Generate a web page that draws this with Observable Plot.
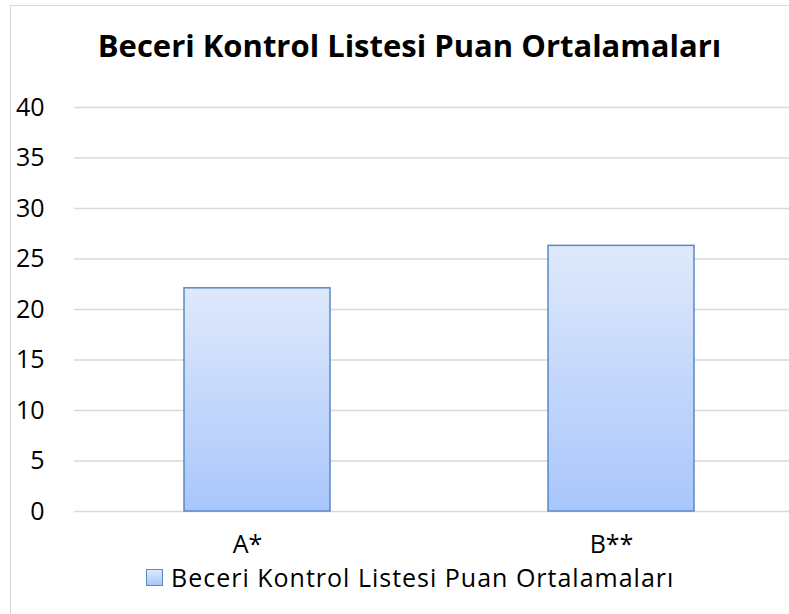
<!DOCTYPE html>
<html>
<head>
<meta charset="utf-8">
<script src="https://cdn.jsdelivr.net/npm/d3@7"></script>
<script src="https://cdn.jsdelivr.net/npm/@observablehq/plot@0.6"></script>
<style>
  html, body { margin: 0; padding: 0; background: #fff; overflow: hidden; }
  body { width: 789px; height: 614px; position: relative; font-family: "Open Sans", Lato, sans-serif; }
  #frame { position: absolute; left: 10px; top: 5px; width: 800px; height: 640px; border: 1.5px solid #d9d9d9; box-sizing: border-box; }
  #title { position: absolute; left: 0; width: 819px; top: 25px; text-align: center; font-size: 31px; font-weight: 700; color: #000; line-height: 40px; white-space: nowrap; }
  #chart { position: absolute; left: 0; top: 85px; }
  #legend { position: absolute; left: 146px; top: 561px; font-size: 25px; letter-spacing: 1px; color: #000; line-height: 32px; white-space: nowrap; display: flex; align-items: center; }
  #legend .sw { width: 15px; height: 15px; border: 1.5px solid #5a88c6; background: linear-gradient(#dfe9fb, #a9c6fb); margin-right: 8px; }
</style>
</head>
<body>
<div id="frame"></div>
<div id="title">Beceri Kontrol Listesi Puan Ortalamaları</div>
<div id="chart"></div>
<div id="legend"><span class="sw"></span><span>Beceri Kontrol Listesi Puan Ortalamaları</span></div>
<script>
const categories = ["A*", "B**"];
const values = [22.1, 26.3];
const yTicks = [0, 5, 10, 15, 20, 25, 30, 35, 40];
const seriesName = "Beceri Kontrol Listesi Puan Ortalamaları";

const data = categories.map((c, i) => ({category: c, value: values[i]}));

const chart = Plot.plot({
  width: 789,
  height: 480,
  marginLeft: 74,
  marginRight: 0,
  marginTop: 22,
  marginBottom: 54,
  style: {fontFamily: "'Open Sans', Lato, sans-serif", background: "transparent", overflow: "hidden"},
  x: {domain: categories, range: [74, 803], paddingInner: 0.6, paddingOuter: 0.3, label: null},
  y: {domain: [0, 40], ticks: yTicks, label: null},
  marks: [
    Plot.ruleY(yTicks, {stroke: "#d9d9d9", strokeWidth: 1.5, strokeOpacity: 1}),
    Plot.barY(data, {x: "category", y: "value", fill: "url(#barGrad)", stroke: "#5a88c6", strokeWidth: 1.5}),
    Plot.axisY({ticks: yTicks, tickSize: 0, tickPadding: 30, fontSize: 25, tickFormat: d => String(d), label: null}),
    Plot.axisX({tickSize: 0, tickPadding: 24, fontSize: 25, dx: -10, label: null})
  ]
});

const svg = d3.select(chart);
const defs = svg.insert("defs", ":first-child");
const g = defs.append("linearGradient").attr("id", "barGrad").attr("x1", 0).attr("y1", 0).attr("x2", 0).attr("y2", 1);
g.append("stop").attr("offset", "0%").attr("stop-color", "#dfe9fb");
g.append("stop").attr("offset", "100%").attr("stop-color", "#a9c6fb");
svg.selectAll("text").attr("fill", "#000");

document.getElementById("chart").appendChild(chart);
</script>
</body>
</html>
